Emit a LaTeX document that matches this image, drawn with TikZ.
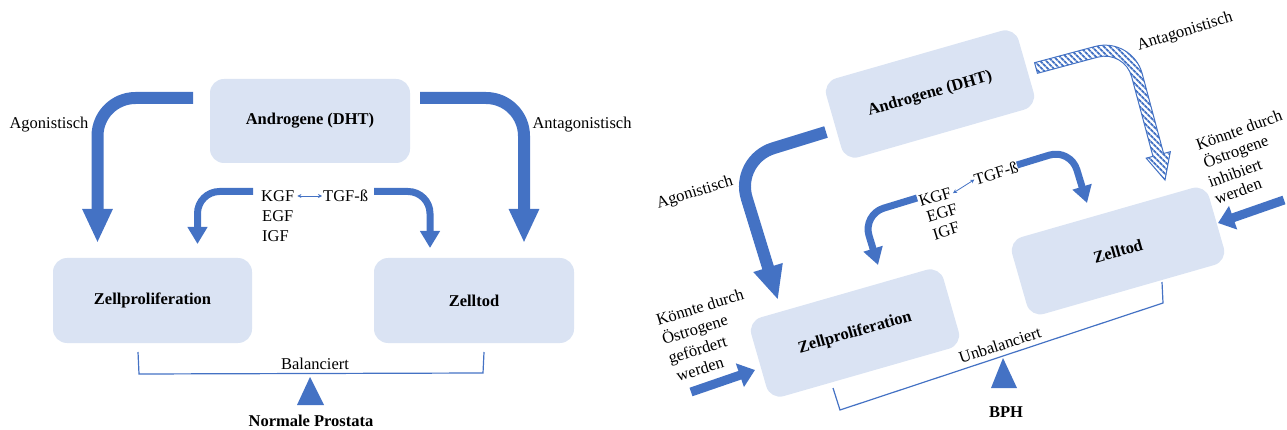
\documentclass[tikz,border=0pt]{standalone}
\usepackage{fontspec}
\setmainfont{Liberation Serif}
\usetikzlibrary{arrows.meta,patterns.meta}
\definecolor{boxfill}{HTML}{DAE3F3}
\definecolor{ablue}{HTML}{4472C4}
% bent block arrow outline in a local frame: #2 L1, #3 L2, #4 half band, #5 half head, #6 head length, #7 centre radius
\newcommand\bentarrow[7][]{%
 \pgfmathsetmacro\bLa{#2}\pgfmathsetmacro\bLb{#3}\pgfmathsetmacro\bh{#4}%
 \pgfmathsetmacro\bH{#5}\pgfmathsetmacro\bHL{#6}\pgfmathsetmacro\bR{#7}%
 \pgfmathsetmacro\bRo{\bR+\bh}\pgfmathsetmacro\bRi{\bR-\bh}%
 \path[#1] (0,-\bh) -- ({\bLa-\bR},-\bh)
  .. controls ({\bLa-\bR+0.552*\bRo},-\bh) and ({\bLa+\bh},{\bR-0.552*\bRo}) .. ({\bLa+\bh},\bR)
  -- ({\bLa+\bh},{\bLb-\bHL}) -- ({\bLa+\bH},{\bLb-\bHL}) -- (\bLa,\bLb)
  -- ({\bLa-\bH},{\bLb-\bHL}) -- ({\bLa-\bh},{\bLb-\bHL}) -- ({\bLa-\bh},\bR)
  .. controls ({\bLa-\bh},{\bR-0.552*\bRi}) and ({\bLa-\bR+0.552*\bRi},\bh) .. ({\bLa-\bR},\bh)
  -- (0,\bh) -- cycle;}
\begin{document}
\begin{tikzpicture}[x=1pt,y=-1pt,font=\fontsize{16.5}{20}\selectfont,
  box/.style={fill=boxfill, rounded corners=14pt, minimum width=200pt, minimum height=84pt,
    inner sep=0pt, font=\fontsize{16.5}{20}\selectfont\bfseries},
  big/.style={draw=ablue, line width=12pt, rounded corners=38pt, -{Triangle[width=28pt,length=34pt]}},
  small/.style={draw=ablue, line width=7pt, rounded corners=22pt, -{Triangle[width=19pt,length=17pt]}},
  lbl/.style={inner sep=0pt},
  bracket/.style={draw=ablue, line width=1.2pt},
  estro/.style={draw=ablue, line width=9pt, -{Triangle[width=24pt,length=16pt]}},
  thinarrow/.style={draw=ablue, line width=0.8pt, {Stealth[length=4pt,width=4pt]}-{Stealth[length=4pt,width=4pt]}}]
\useasboundingbox (0,0) rectangle (1287,430);

% ---------------- left panel ----------------
\node[box] (andL) at (310,121) {Androgene (DHT)};
\node[box, minimum width=199pt, minimum height=85pt] (proL) at (152.5,300.5) {Zellproliferation};
\node[box, minimum height=85pt] (todL) at (474,300.5) {Zelltod};

\coordinate (aLs) at (193,98);  \coordinate (aLe) at (97.5,243);
\coordinate (bLs) at (420,98);  \coordinate (bLe) at (524,243);
\draw[big] (aLs) -| (aLe);
\draw[big] (bLs) -| (bLe);
\coordinate (sLs) at (253,191.5); \coordinate (sLe) at (197.5,244);
\coordinate (tLs) at (374,191.5); \coordinate (tLe) at (430,248);
\draw[small] (sLs) -| (sLe);
\draw[small] (tLs) -| (tLe);

\node[lbl, anchor=west] (kgfL) at (261,196) {KGF};
\node[lbl, anchor=west] (tgfL) at (323,196) {TGF-ß};
\node[lbl, anchor=west] (egfL) at (262,216) {EGF};
\node[lbl, anchor=west] (igfL) at (262,236) {IGF};
\draw[thinarrow] ([xshift=3pt]kgfL.east) -- ([xshift=-1pt]tgfL.west);

\node[lbl] (agoL) at (49,125) {Agonistisch};
\node[lbl] (antL) at (582,125) {Antagonistisch};

\coordinate (brL1) at (138,352); \coordinate (brL2) at (139,374);
\coordinate (brL3) at (483,373); \coordinate (brL4) at (484,352);
\draw[bracket] (brL1) -- (brL2) -- (brL3) -- (brL4);
\node[lbl] (balL) at (315,364) {Balanciert};
\fill[ablue] (310,377) -- (297,405) -- (324,405) -- cycle;
\node[lbl, font=\fontsize{16.5}{20}\selectfont\bfseries] (normL) at (311,421) {Normale Prostata};

% ---------------- right panel ----------------
\node[box, rotate=16, minimum height=82pt] (andR) at (930,94) {Androgene (DHT)};
\node[box, rotate=16, minimum height=82pt] (proR) at (855,333) {Zellproliferation};
\node[box, rotate=16, minimum width=205pt, minimum height=80pt] (todR) at (1118,251) {Zelltod};

\coordinate (cRs) at (826,132); \coordinate (cRc) at (735,160); \coordinate (cRe) at (778,300);
\draw[big, rounded corners=40pt] (cRs) -- (cRc) -- (cRe);

\begin{scope}[shift={(1036,68)}, rotate=15]
  \bentarrow[fill=white]{95.6}{141.6}{5.5}{12.5}{26}{33}
  \bentarrow[pattern={Lines[angle=-45,distance=4pt,line width=2pt]}, pattern color=ablue]{95.6}{141.6}{5.5}{12.5}{26}{33}
  \bentarrow[draw=ablue, line width=1pt]{95.6}{141.6}{5.5}{12.5}{26}{33}
\end{scope}

\coordinate (sRs) at (917,198); \coordinate (sRc) at (862.6,214.6); \coordinate (sRe) at (878,265);
\coordinate (tRs) at (1017,165); \coordinate (tRc) at (1070.4,148.7); \coordinate (tRe) at (1087,203);
\draw[small] (sRs) -- (sRc) -- (sRe);
\draw[small] (tRs) -- (tRc) -- (tRe);

\node[lbl, rotate=17] (kgfR) at (935,197) {KGF};
\node[lbl, rotate=17] (tgfR) at (996,173) {TGF-ß};
\node[lbl, rotate=17] (egfR) at (942,213) {EGF};
\node[lbl, rotate=17] (igfR) at (946,231) {IGF};
\draw[thinarrow] ([shift={(2pt,-1pt)}]kgfR.east) -- (tgfR.west);

\node[lbl, rotate=17] (agoR) at (695,193) {Agonistisch};
\node[lbl, rotate=17] (antR) at (1185,32) {Antagonistisch};

\node[lbl, rotate=17] (e1) at (700,307) {Könnte durch};
\node[lbl, rotate=17] (e2) at (695,330) {Östrogene};
\node[lbl, rotate=17] (e3) at (698,351) {gefördert};
\node[lbl, rotate=17] (e4) at (700,369) {werden};
\coordinate (eLs) at (691,392); \coordinate (eLe) at (755,370);
\draw[estro] (eLs) -- (eLe);

\node[lbl, rotate=20] (f1) at (1239,130) {Könnte durch};
\node[lbl, rotate=20] (f2) at (1236,152) {Östrogene};
\node[lbl, rotate=20] (f3) at (1235,173) {inhibiert};
\node[lbl, rotate=20] (f4) at (1238,191) {werden};
\coordinate (eRs) at (1284,200); \coordinate (eRe) at (1218,223);
\draw[estro] (eRs) -- (eRe);

\coordinate (brR1) at (833,388); \coordinate (brR2) at (840,410);
\coordinate (brR3) at (1163,303); \coordinate (brR4) at (1162,282);
\draw[bracket] (brR1) -- (brR2) -- (brR3) -- (brR4);
\node[lbl, rotate=18] (unbR) at (1000,345) {Unbalanciert};
\fill[ablue] (1003,358) -- (991,388) -- (1017,388) -- cycle;
\node[lbl, font=\fontsize{16.5}{20}\selectfont\bfseries] (bph) at (1006,412) {BPH};
\end{tikzpicture}
\end{document}
